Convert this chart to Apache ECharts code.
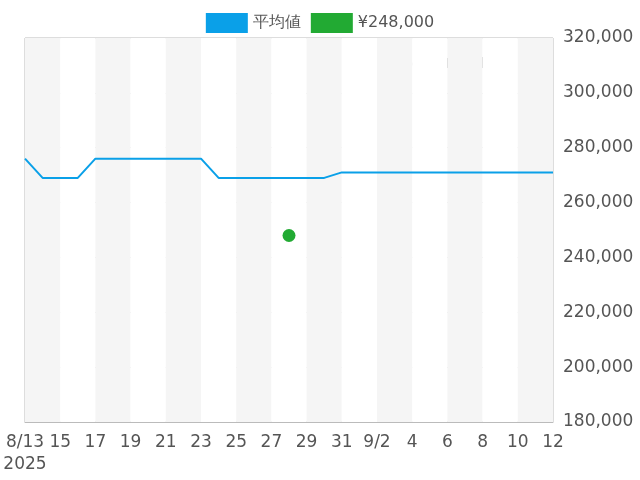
<!DOCTYPE html>
<html><head><meta charset="utf-8">
<script src="https://cdn.jsdelivr.net/npm/echarts@6/dist/echarts.min.js"></script>
</head><body style="margin:0">
<div id="main" style="width:640px;height:480px"></div>
<script>
var days = ['8/13','14','15','16','17','18','19','20','21','22','23','24','25','26','27','28','29','30','31',
	'9/1','9/2','3','4','5','6','7','8','9','10','11','12'];
var avgPrice = [276000,269000,269000,269000,276000,276000,276000,276000,276000,276000,276000,269000,269000,269000,269000,269000,269000,269000,271000,
	271000,271000,271000,271000,271000,271000,271000,271000,271000,271000,271000,271000];
var salePrice = [null,null,null,null,null,null,null,null,null,null,null,null,null,null,null,248000,null,null,null,
	null,null,null,null,null,null,null,null,null,null,null,null];

var myChart = echarts.init(document.getElementById('main'));
var option = {
	animation: false,
	textStyle: { fontFamily: 'DejaVu Sans' },
	legend: {
		top: 8, itemWidth: 42, itemHeight: 20, itemGap: 10,
		textStyle: { fontSize: 16, color: '#555' },
		data: [{ name: '平均値', icon: 'rect' }, { name: '¥248,000', icon: 'rect' }]
	},
	grid: { left: 25, right: 87, top: 38, bottom: 58, show: true, borderColor: '#bbb', borderWidth: 1 },
	graphic: [{ type: 'text', right: 108, top: 57,
		style: { text: 'udedokeitoushi.com', fill: '#999', fontSize: 14, fontWeight: 'bold', fontFamily: 'DejaVu Sans' } }],
	xAxis: {
		type: 'category', boundaryGap: false, data: days,
		axisLine: { lineStyle: { color: '#bbb' } },
		axisTick: { show: false },
		axisLabel: { interval: 1, fontSize: 17, color: '#555', margin: 10, lineHeight: 22,
			formatter: function (v, i) { return i === 0 ? '8/13\n2025' : v; } },
		splitArea: { show: true, interval: 1, areaStyle: { color: ['#f5f5f5', '#ffffff'] } }
	},
	yAxis: {
		type: 'value', position: 'right', min: 180000, max: 320000, interval: 20000,
		axisLine: { show: false }, axisTick: { show: false },
		axisLabel: { fontSize: 17, color: '#555', margin: 10,
			formatter: function (v) { return v.toLocaleString('en-US'); } },
		splitLine: { lineStyle: { color: '#e0e0e0' } }
	},
	series: [
		{ name: '平均値', type: 'line', data: avgPrice, showSymbol: false,
			itemStyle: { color: '#0aa0e8' }, lineStyle: { width: 2, color: '#0aa0e8' } },
		{ name: '¥248,000', type: 'scatter', data: salePrice, symbolSize: 13,
			itemStyle: { color: '#22aa33', opacity: 1 } }
	]
};
myChart.setOption(option);
</script>
</body></html>
